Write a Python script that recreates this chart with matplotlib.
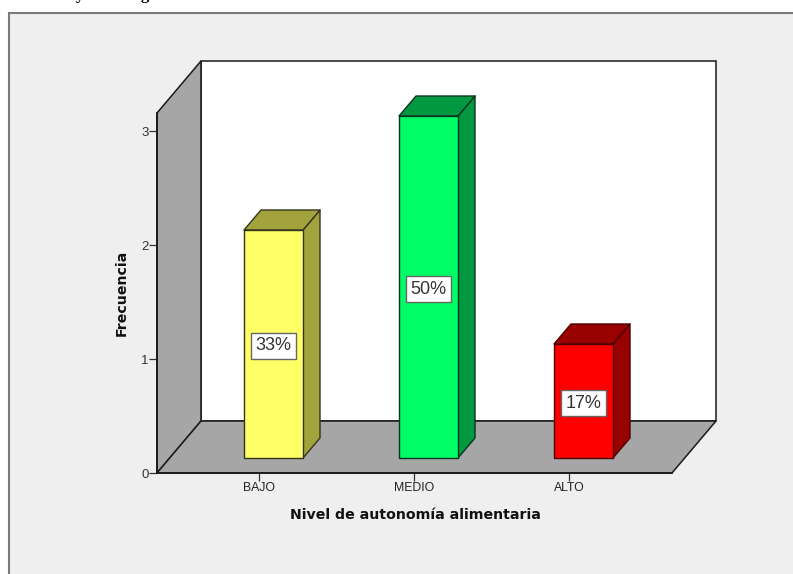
import matplotlib.pyplot as plt
from matplotlib.patches import Rectangle

categories = ["BAJO", "MEDIO", "ALTO"]
frequencies = [2, 3, 1]
percents = ["33%", "50%", "17%"]
front_colors = ["#FFFF66", "#00FF66", "#FF0000"]
side_colors = ["#A3A33D", "#009940", "#990000"]
edge_colors = ["#33331A", "#0A3320", "#4D0000"]
yticks = [0, 1, 2, 3]

W, H = 793, 574
# pixels per data unit on the front plane
PX_X = 155
PX_Y = 114

plt.rcParams["font.family"] = ["Liberation Sans", "DejaVu Sans"]

fig = plt.figure(figsize=(W / 100, H / 100), dpi=100, facecolor="white")

# grey panel, runs off the right and bottom of the image
fig.add_artist(Rectangle((8.5 / W, -0.05), 1.0, 1 - 12.5 / H + 0.05, transform=fig.transFigure,
                         facecolor="#EFEFEF", edgecolor="#7A7A7A", linewidth=1.5, zorder=-1))

# clipped caption above the panel
fig.text(80 / W, 1 + 1 / H, "y", family="Liberation Serif", weight="bold", fontsize=12,
         ha="center", va="baseline")
fig.text(145 / W, 1 + 1 / H, "g", family="Liberation Serif", weight="bold", fontsize=12,
         ha="center", va="baseline")

ax = fig.add_axes([157 / W, (H - 473) / H, 515 / W, 360 / H])
ax.set_facecolor("none")
ax.set_xlim((157 - 259) / PX_X, (672 - 259) / PX_X)
ax.set_ylim(0, 360 / PX_Y)
x0, x1 = ax.get_xlim()
y0, y1 = ax.get_ylim()

# depth of the box and of the bars, in data units
box_dx, box_dy = 44 / PX_X, 52 / PX_Y
bar_dx, bar_dy = 17 / PX_X, 20 / PX_Y
off_x, off_y = 14.5 / PX_X, 15 / PX_Y
bar_w = 59 / PX_X

wall = dict(edgecolor="#1A1A1A", linewidth=1.1, clip_on=False, joinstyle="miter")
ax.fill([x0 + box_dx, x1 + box_dx, x1 + box_dx, x0 + box_dx],
        [y0 + box_dy, y0 + box_dy, y1 + box_dy, y1 + box_dy],
        facecolor="white", zorder=1, **wall)
ax.fill([x0, x0 + box_dx, x0 + box_dx, x0],
        [y0, y0 + box_dy, y1 + box_dy, y1],
        facecolor="#A6A6A6", zorder=2, **wall)
ax.fill([x0, x1, x1 + box_dx, x0 + box_dx],
        [y0, y0, y0 + box_dy, y0 + box_dy],
        facecolor="#A6A6A6", zorder=2, **wall)

for i, value in enumerate(frequencies):
    left = i + off_x - bar_w / 2
    right = left + bar_w
    top = off_y + value
    style = dict(edgecolor=edge_colors[i], linewidth=1.0, clip_on=False, joinstyle="round")
    # side face
    ax.fill([right, right + bar_dx, right + bar_dx, right],
            [off_y, off_y + bar_dy, top + bar_dy, top],
            facecolor=side_colors[i], zorder=3, **style)
    # top face
    ax.fill([left, right, right + bar_dx, left + bar_dx],
            [top, top, top + bar_dy, top + bar_dy],
            facecolor=side_colors[i], zorder=3, **style)
    ax.bar(i + off_x, value, bar_w, bottom=off_y, color=front_colors[i], zorder=4, **style)
    ax.text(i + off_x, off_y + value / 2, percents[i], fontsize=13, color="#333333",
            ha="center", va="center_baseline", zorder=5,
            bbox=dict(boxstyle="square,pad=0.27", facecolor="white", edgecolor="#666666", linewidth=1.0))

for side in ["top", "right"]:
    ax.spines[side].set_visible(False)
for side in ["left", "bottom"]:
    ax.spines[side].set_color("#1A1A1A")
    ax.spines[side].set_linewidth(1.3)
    ax.spines[side].set_zorder(6)

ax.set_xticks(range(len(categories)), categories)
ax.set_yticks(yticks)
ax.tick_params(axis="x", length=6, width=0.9, color="#333333", labelcolor="#222222", labelsize=8.8, pad=0.8)
ax.tick_params(axis="y", length=6, width=0.9, color="#333333", labelcolor="#333333", labelsize=9.5, pad=0)

fig.text(415.5 / W, 1 - 515 / H, "Nivel de autonomía alimentaria", family="DejaVu Sans", weight="bold",
         fontsize=10.2, ha="center", va="center", color="#111111")
fig.text(122 / W, 1 - 292.5 / H, "Frecuencia", family="DejaVu Sans", weight="bold",
         fontsize=10.2, rotation=90, ha="center", va="center", color="#111111")

fig.savefig("out.png", dpi=100)
